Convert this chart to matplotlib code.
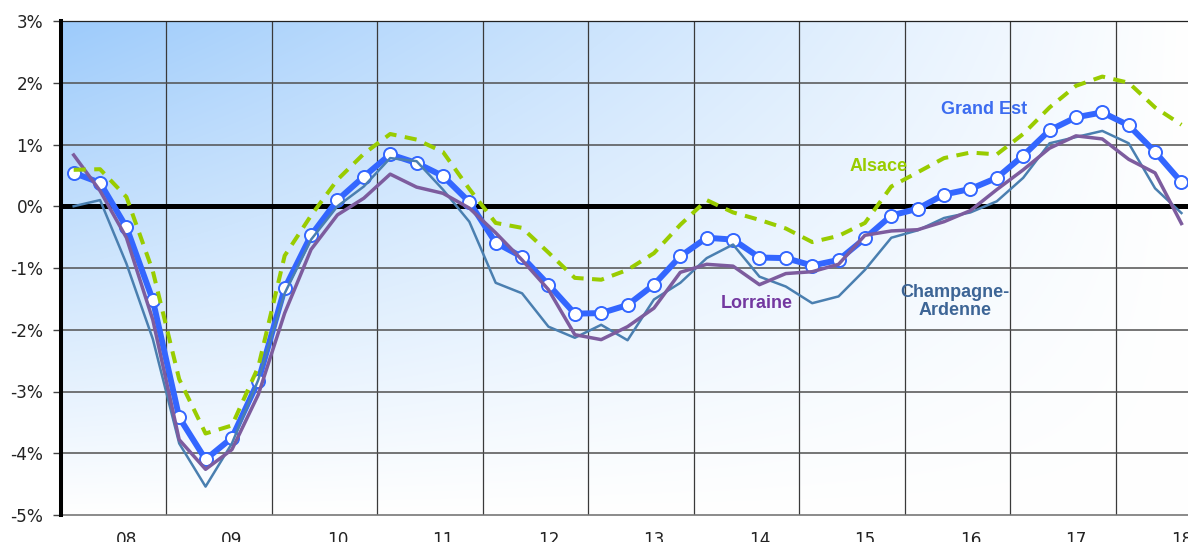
import numpy as np
import matplotlib
matplotlib.use("Agg")
import matplotlib.pyplot as plt

# ---------------- data ----------------
quarters = ["2008T1", "2008T2", "2008T3", "2008T4",
            "2009T1", "2009T2", "2009T3", "2009T4",
            "2010T1", "2010T2", "2010T3", "2010T4",
            "2011T1", "2011T2", "2011T3", "2011T4",
            "2012T1", "2012T2", "2012T3", "2012T4",
            "2013T1", "2013T2", "2013T3", "2013T4",
            "2014T1", "2014T2", "2014T3", "2014T4",
            "2015T1", "2015T2", "2015T3", "2015T4",
            "2016T1", "2016T2", "2016T3", "2016T4",
            "2017T1", "2017T2", "2017T3", "2017T4",
            "2018T1", "2018T2", "2018T3"]

years = ["2008", "2009", "2010", "2011", "2012", "2013",
         "2014", "2015", "2016", "2017", "2018"]
year_labels = ["08", "09", "10", "11", "12", "13", "14", "15", "16", "17", "18"]

grand_est = [0.54, 0.38, -0.34, -1.52, -3.42, -4.10, -3.75, -2.83, -1.33, -0.47,
             0.10, 0.48, 0.84, 0.70, 0.49, 0.07, -0.59, -0.82, -1.27, -1.74,
             -1.73, -1.60, -1.27, -0.81, -0.51, -0.54, -0.83, -0.84, -0.96, -0.87,
             -0.52, -0.15, -0.04, 0.19, 0.28, 0.46, 0.82, 1.23, 1.44, 1.52,
             1.31, 0.88, 0.39]

alsace = [0.59, 0.60, 0.15, -1.05, -2.80, -3.68, -3.55, -2.60, -0.80, -0.15,
          0.43, 0.85, 1.17, 1.08, 0.88, 0.28, -0.27, -0.35, -0.75, -1.16,
          -1.19, -1.03, -0.76, -0.30, 0.10, -0.10, -0.22, -0.36, -0.58, -0.48,
          -0.27, 0.32, 0.55, 0.78, 0.87, 0.84, 1.17, 1.60, 1.95, 2.10,
          2.00, 1.60, 1.32]

lorraine = [0.83, 0.25, -0.51, -1.84, -3.78, -4.26, -3.94, -3.05, -1.73, -0.70,
            -0.14, 0.13, 0.52, 0.31, 0.21, -0.03, -0.43, -0.87, -1.35, -2.08,
            -2.16, -1.95, -1.65, -1.07, -0.94, -0.97, -1.27, -1.09, -1.06, -0.94,
            -0.47, -0.40, -0.38, -0.25, -0.07, 0.27, 0.59, 0.94, 1.14, 1.09,
            0.76, 0.54, -0.28]

champagne = [0.00, 0.10, -0.93, -2.15, -3.84, -4.54, -3.84, -2.81, -1.41, -0.54,
             0.00, 0.32, 0.78, 0.73, 0.27, -0.25, -1.24, -1.41, -1.95, -2.13,
             -1.92, -2.17, -1.51, -1.24, -0.84, -0.62, -1.14, -1.30, -1.57, -1.46,
             -1.03, -0.51, -0.39, -0.19, -0.10, 0.08, 0.46, 1.02, 1.12, 1.22,
             1.02, 0.29, -0.11]

y_ticks = [-5, -4, -3, -2, -1, 0, 1, 2, 3]
y_ticklabels = ["-5%", "-4%", "-3%", "-2%", "-1%", "0%", "1%", "2%", "3%"]

# ---------------- figure ----------------
W, H, DPI = 1188, 542, 100
fig = plt.figure(figsize=(W / DPI, H / DPI), dpi=DPI)
ax = fig.add_axes([60.5 / W, 1 - 515 / H, 1 - 60.5 / W, (515 - 21) / H])

x = np.arange(len(quarters))

# background gradient (blue top-left fading to white)
nx, ny = 400, 200
u = np.linspace(0, 1, nx)[None, :]
v = np.linspace(0, 1, ny)[:, None]
a = (1 - u) * (1 - v)
c0 = np.array([157, 203, 251]) / 255.0
img = np.ones((ny, nx, 3)) - a[..., None] * (1 - c0)[None, None, :]
ax.imshow(img, extent=[0, 1, 0, 1], transform=ax.transAxes, aspect="auto",
          zorder=0, interpolation="bilinear")

xmin = -0.5
xmax = -0.5 + (W - 60.5) / 26.375
ax.set_xlim(xmin, xmax)
ax.set_ylim(-5, 3)

# year boundaries (vertical grid) and horizontal grid
boundaries = [quarters.index(y + "T1") - 0.5 for y in years[1:]]
for b in boundaries:
    ax.axvline(b, color="#3a3a3a", lw=0.9, zorder=1)
for yt in y_ticks[1:-1]:
    if yt != 0:
        ax.axhline(yt, color="#505050", lw=1.1, zorder=1)
ax.axhline(0, color="black", lw=3.6, zorder=2)

# series
ax.plot(x, grand_est, color="#3366ff", lw=4.3, marker="o", ms=9.4,
        mfc="white", mec="#3366ff", mew=1.4, zorder=3, solid_joinstyle="round")
ax.plot(x, champagne, color="#4a7fb0", lw=1.8, zorder=4)
ax.plot(x, lorraine, color="#7d5c9e", lw=2.5, zorder=5)
ax.plot(x, alsace, color="#99cc00", lw=2.9, zorder=6, dashes=(3.0, 2.1))

# labels
lab_font = dict(family="Liberation Sans", weight="bold", fontsize=13)
ax.text(34.5, 1.56, "Grand Est", color="#3c6cf0", ha="center", va="center", zorder=7, **lab_font)
ax.text(30.5, 0.64, "Alsace", color="#99cc00", ha="center", va="center", zorder=7, **lab_font)
ax.text(25.9, -1.58, "Lorraine", color="#7338a0", ha="center", va="center", zorder=7, **lab_font)
ax.text(33.4, -1.54, "Champagne-\nArdenne", color="#3d6596", ha="center", va="center",
        multialignment="center", linespacing=1.05, zorder=7, **lab_font)

# ticks
ax.set_yticks(y_ticks)
ax.set_yticklabels(y_ticklabels)
xt = [quarters.index(y + "T3") for y in years]
ax.set_xticks(xt)
ax.set_xticklabels(year_labels)
ax.tick_params(axis="y", direction="out", length=5.5, width=1, color="#444444",
               pad=7, labelsize=12.2, labelcolor="#222222")
ax.tick_params(axis="x", length=0, pad=11.5, labelsize=12.2, labelcolor="#222222")
for lab in ax.get_xticklabels() + ax.get_yticklabels():
    lab.set_fontfamily("DejaVu Sans")

# spines
ax.spines["left"].set_color("black")
ax.spines["left"].set_linewidth(2.9)
ax.spines["left"].set_zorder(8)
ax.spines["top"].set_color("#222222")
ax.spines["top"].set_linewidth(0.9)
ax.spines["bottom"].set_color("#777777")
ax.spines["bottom"].set_linewidth(1.2)
ax.spines["right"].set_visible(False)

fig.savefig("out.png", dpi=DPI)
